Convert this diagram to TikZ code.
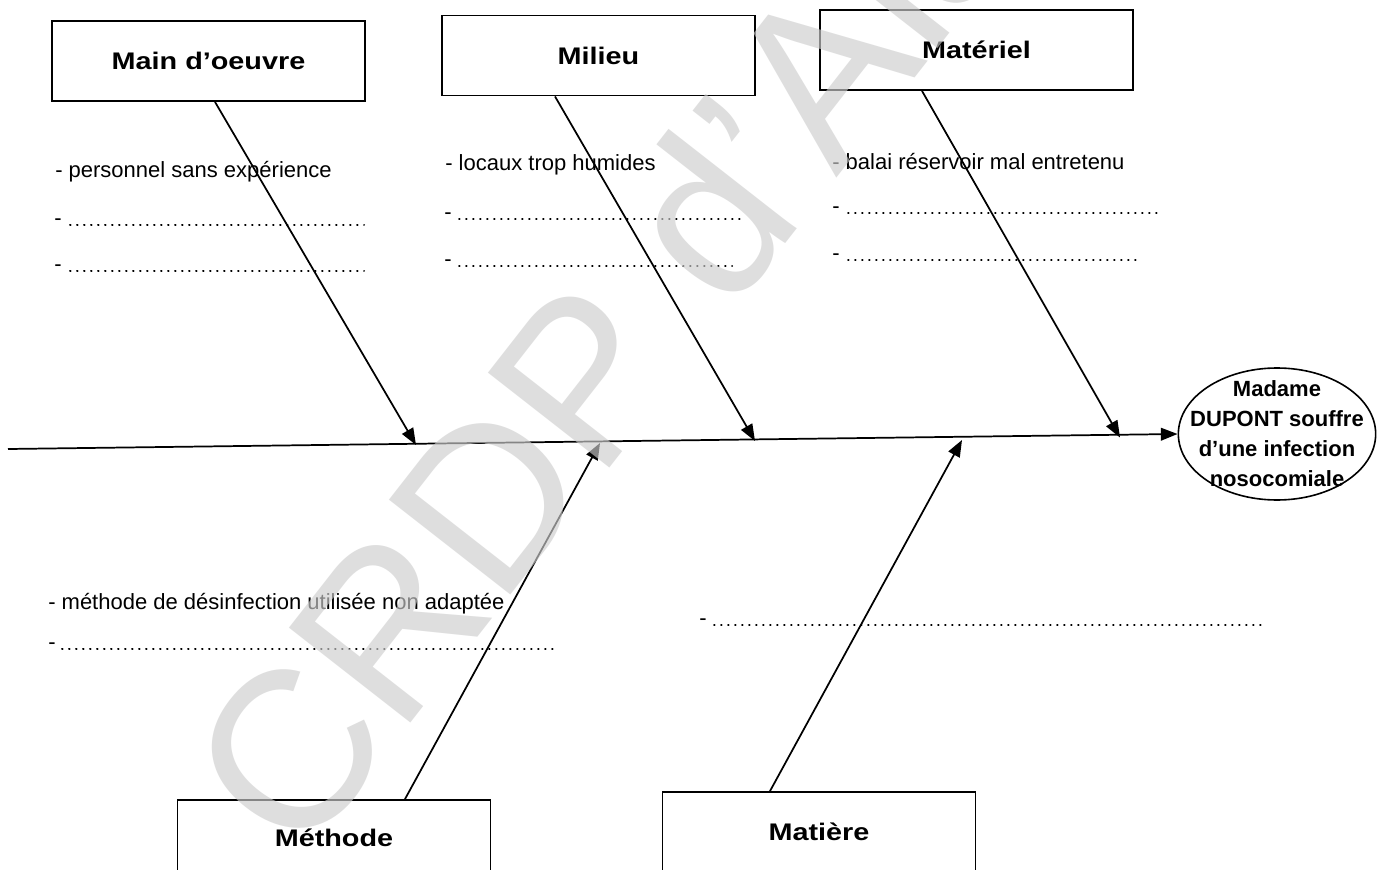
\documentclass[tikz,border=0pt]{standalone}
\usepackage{fontspec}
\setmainfont{Liberation Sans}
\usetikzlibrary{arrows.meta,calc,shapes.geometric}
\definecolor{wmgray}{RGB}{205,205,205}
\newcommand{\hdtext}[1]{\scalebox{1.2}[1]{\bfseries #1}}
\begin{document}
\begin{tikzpicture}[x=0.75pt,y=-0.75pt,
  box/.style={draw,line width=1.4pt,inner sep=0pt,minimum width=234.75pt,minimum height=60pt,font=\fontsize{18}{20}\selectfont},
  cause/.style={anchor=base west,inner sep=0pt,font=\fontsize{16.5}{19}\selectfont},
  dashmark/.style={anchor=west,inner sep=0pt,font=\fontsize{16.5}{19}\selectfont},
  dots/.style={line width=1.5pt,line cap=round,dash pattern=on 0.4pt off 4.85pt},
  bone/.style={line width=1.3pt,-{Triangle[length=12.5pt,width=9.5pt]}},
  goalnode/.style={ellipse,draw,line width=1.2pt,inner xsep=-14pt,inner ysep=-10pt,minimum width=148pt,minimum height=99pt,align=center,font=\fontsize{16.5}{22.5}\selectfont\bfseries}]
\path[use as bounding box,clip] (0,0) rectangle (1392,870);
\fill[white] (0,0) rectangle (1392,870);

% category boxes
\node[box] (mo) at (208.5,61) {\hdtext{Main d'oeuvre}};
\node[box] (mi) at (598.5,55.5) {\hdtext{Milieu}};
\node[box] (ma) at (976.5,50) {\hdtext{Matériel}};
\node[box,minimum height=57pt] (me) at (334,838) {\hdtext{Méthode}};
\node[box,minimum height=60pt] (mt) at (819,832) {\hdtext{Matière}};

% effect
\node[goalnode] (goal) at (1277,434) {Madame\\DUPONT souffre\\d'une infection\\nosocomiale};

% spine
\coordinate (tail) at (8,449);
\draw[bone] (tail) -- (goal.west);

% points on the spine
\coordinate (p1) at (416,445);
\coordinate (p2) at (755,441);
\coordinate (p3) at (1120,437.5);
\coordinate (q1) at (600,443);
\coordinate (q2) at (962,440);

% bones
\draw[bone] ($(mo.south)+(6.5,0)$) -- (p1);
\draw[bone] ($(mi.south)+(-43.5,0)$) -- (p2);
\draw[bone] ($(ma.south)+(-54.5,0)$) -- (p3);
\draw[bone] ($(me.north)+(71,0)$) -- (q1);
\draw[bone] ($(mt.north)+(-49,0)$) -- (q2);

% causes: Main d'oeuvre
\node[cause] (c1) at (55,178) {- personnel sans expérience};
\node[dashmark] (d11) at (54,222) {-};
\draw[dots] (70,225) -- (364,225);
\node[dashmark] (d12) at (54,268) {-};
\draw[dots] (70,271) -- (364,271);

% causes: Milieu
\node[cause] (c2) at (445,171) {- locaux trop humides};
\node[dashmark] (d21) at (444,216) {-};
\draw[dots] (459,219) -- (742,219);
\node[dashmark] (d22) at (444,263) {-};
\draw[dots] (459,266) -- (732,266);

% causes: Matériel
\node[cause] (c3) at (832,170) {- balai réservoir mal entretenu};
\node[dashmark] (d31) at (832,210) {-};
\draw[dots] (848,213) -- (1160,213);
\node[dashmark] (d32) at (832,257) {-};
\draw[dots] (848,260) -- (1138,260);

% causes: Méthode
\node[cause] (c4) at (48,609) {- méthode de désinfection utilisée non adaptée};
\node[dashmark] (d41) at (48,646) {-};
\draw[dots] (62,649) -- (555,649);

% causes: Matière
\node[dashmark] (d51) at (699,622) {-};
\draw[dots] (714,625) -- (1262,625);

% watermark
\node[rotate=52,anchor=base west,inner sep=0pt,text=wmgray,opacity=0.65,font=\fontsize{168}{168}\selectfont] (wm) at (300,865) {CRDP d'Alsace};
\end{tikzpicture}
\end{document}
